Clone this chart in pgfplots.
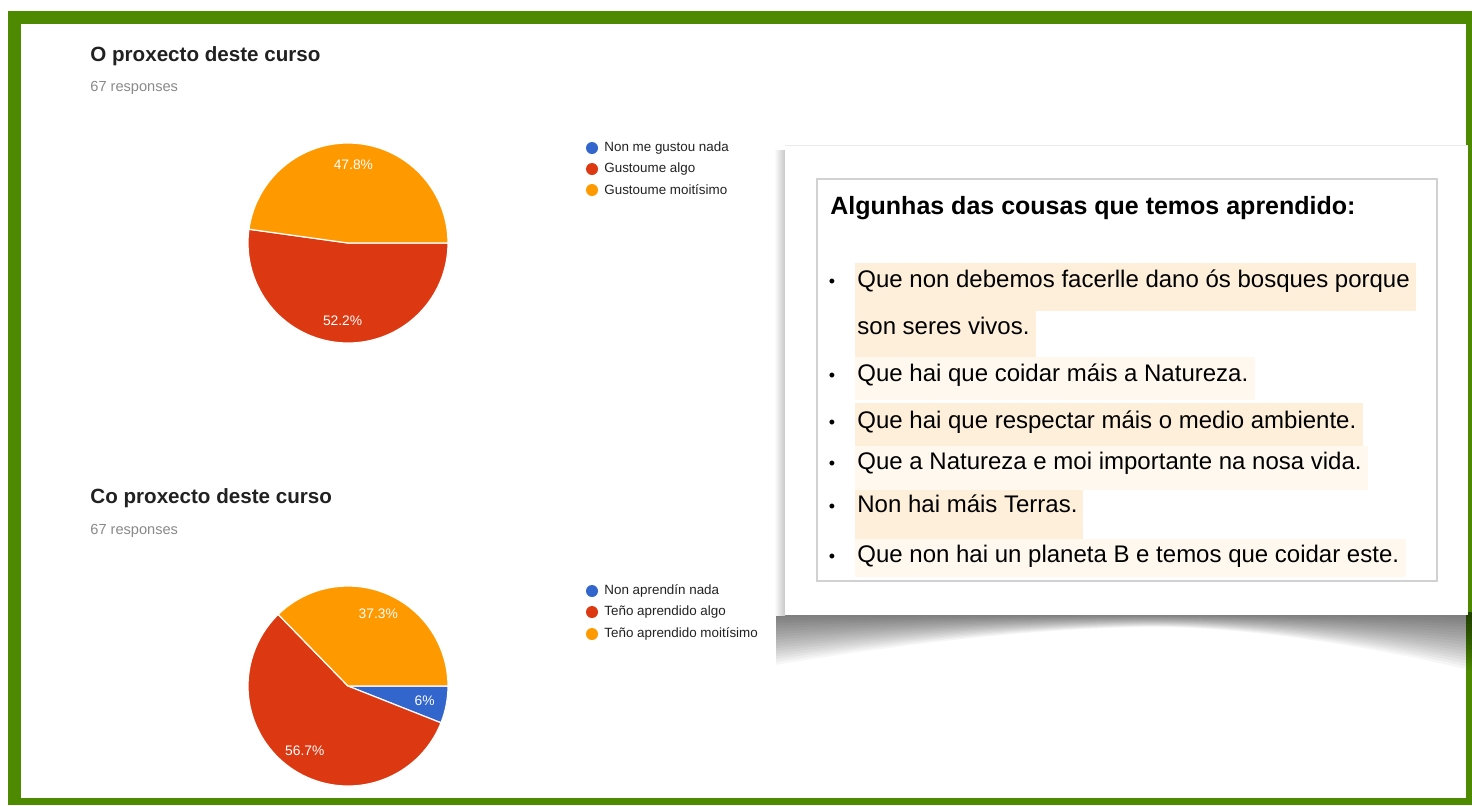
\documentclass[border=0pt]{standalone}
\usepackage{pgfplots}
\pgfplotsset{compat=1.18}
\usepackage{fontspec}
\setmainfont{Liberation Sans}
\definecolor{gblue}{HTML}{3366CC}
\definecolor{gred}{HTML}{DC3912}
\definecolor{gorange}{HTML}{FF9900}
\definecolor{frame}{RGB}{78,138,0}
\definecolor{hlA}{HTML}{FEEFDA}
\definecolor{hlB}{HTML}{FFF8EF}
\definecolor{titlec}{HTML}{212121}
\definecolor{respc}{HTML}{8A8A8A}
\definecolor{legc}{HTML}{222222}

% Data (percent of 67 responses), slices in order: blue, red, orange
% Chart 1: Non me gustou nada / Gustoume algo / Gustoume moitisimo
\def\Aa{0}\def\Ab{52.2}\def\Ac{47.8}
% Chart 2: Non aprendin nada / Teno aprendido algo / Teno aprendido moitisimo
\def\Ba{6}\def\Bb{56.7}\def\Bc{37.3}

% #1 cumulative start percent, #2 percent, #3 colour
\newcommand\slice[3]{%
  \fill[#3,draw=white,line width=0.6pt] (axis cs:0,0) -- (axis cs:{cos(-3.6*(#1))},{sin(-3.6*(#1))})
    arc[start angle={-3.6*(#1)}, end angle={-3.6*(#1+#2)}, radius=50pt] -- cycle;}
\newcommand\plabel[3]{%
  \node[text=white,inner sep=0pt,font=\fontsize{6.9}{8}\selectfont] at
    (axis cs:{0.78*cos(-3.6*(#1+(#2)/2))},{0.78*sin(-3.6*(#1+(#2)/2))}) {#3};}

\begin{document}
\begin{tikzpicture}
\begin{scope}[x=0.5pt,y=-0.5pt]
  \path (0,0) rectangle (1472,805);
  % green frame
  \fill[frame] (8,11) rectangle (1472,805);
  \fill[white] (21,24) rectangle (1466,798);
  % panel shadows (soft, layered)
  \foreach \i in {1,...,18} {
    \pgfmathsetmacro\f{1.05-\i/18}
    \fill[black,opacity=0.034] (776,612) -- (1472,612) -- (1472,{615+56*\f})
      .. controls (1390,{615+36*\f}) and (1260,{615+12*\f}) .. (1150,{615+12*\f})
      .. controls (1000,{615+14*\f}) and (850,{615+38*\f}) .. (776,{615+50*\f}) -- cycle;
  }
  \shade[left color=white, right color=black!22] (774,150) rectangle (785,615);
  % panel
  \fill[white] (785,145) rectangle (1468,615);
  \draw[black!8,line width=0.5pt] (785,145) -- (1468,145);
  % inner box
  \draw[black!18,line width=0.8pt,fill=white] (817,179) rectangle (1437,581);
  % highlights
  \fill[hlA] (855,263) rectangle (1416,311);
  \fill[hlA] (855,311) rectangle (1036,357);
  \fill[hlB] (855,357) rectangle (1255,400);
  \fill[hlA] (855,403) rectangle (1363,446);
  \fill[hlB] (855,446) rectangle (1368,490);
  \fill[hlA] (855,490) rectangle (1083,539);
  \fill[hlB] (855,539) rectangle (1406,577);
  % texts of the panel
  \begin{scope}[every node/.style={inner sep=0pt,anchor=base west,font=\fontsize{12}{14}\selectfont}]
    \node[font=\fontsize{12.5}{14}\selectfont\bfseries] at (830,214) {Algunhas das cousas que temos aprendido:};
    \node at (857,287) {Que non debemos facerlle dano ós bosques porque};
    \node at (857,334) {son seres vivos.};
    \node at (857,381) {Que hai que coidar máis a Natureza.};
    \node at (857,428) {Que hai que respectar máis o medio ambiente.};
    \node at (857,469) {Que a Natureza e moi importante na nosa vida.};
    \node at (857,512) {Non hai máis Terras.};
    \node at (857,562) {Que non hai un planeta B e temos que coidar este.};
  \end{scope}
  \begin{scope}[every node/.style={inner sep=0pt,anchor=base,font=\fontsize{9}{10}\selectfont}]
    \foreach \yy in {287,381,428,469,512,562} {\node at (832,\yy) {•};}
  \end{scope}
  % left titles
  \node[inner sep=0pt,anchor=base west,text=titlec,font=\fontsize{10.3}{12}\selectfont\bfseries] at (90,61) {O proxecto deste curso};
  \node[inner sep=0pt,anchor=base west,text=respc,font=\fontsize{7.3}{9}\selectfont] at (90,91) {67 responses};
  \node[inner sep=0pt,anchor=base west,text=titlec,font=\fontsize{10.3}{12}\selectfont\bfseries] at (90,503) {Co proxecto deste curso};
  \node[inner sep=0pt,anchor=base west,text=respc,font=\fontsize{7.3}{9}\selectfont] at (90,534) {67 responses};
  % legends
  \begin{scope}[every node/.style={inner sep=0pt,anchor=west,text=legc,font=\fontsize{6.7}{8}\selectfont}]
    \fill[gblue] (592,148) circle (6); \node at (604,148) {Non me gustou nada};
    \fill[gred] (592,169) circle (6); \node at (604,169) {Gustoume algo};
    \fill[gorange] (592,190) circle (6); \node at (604,190) {Gustoume moitísimo};
    \fill[gblue] (592,591) circle (6); \node at (604,591) {Non aprendín nada};
    \fill[gred] (592,612) circle (6); \node at (604,612) {Teño aprendido algo};
    \fill[gorange] (592,634) circle (6); \node at (604,634) {Teño aprendido moitísimo};
  \end{scope}
\end{scope}

\begin{axis}[at={(174pt,-121.5pt)}, anchor=center, scale only axis, width=100pt, height=100pt,
  xmin=-1, xmax=1, ymin=-1, ymax=1, hide axis, clip=false]
  \slice{\Aa}{\Ab}{gred}
  \slice{\Aa+\Ab}{\Ac}{gorange}
  \plabel{\Aa}{\Ab}{52.2\%}
  \plabel{\Aa+\Ab}{\Ac}{47.8\%}
\end{axis}

\begin{axis}[at={(174pt,-343pt)}, anchor=center, scale only axis, width=100pt, height=100pt,
  xmin=-1, xmax=1, ymin=-1, ymax=1, hide axis, clip=false]
  \slice{0}{\Ba}{gblue}
  \slice{\Ba}{\Bb}{gred}
  \slice{\Ba+\Bb}{\Bc}{gorange}
  \plabel{0}{\Ba}{6\%}
  \plabel{\Ba}{\Bb}{56.7\%}
  \plabel{\Ba+\Bb}{\Bc}{37.3\%}
\end{axis}
\end{tikzpicture}
\end{document}
